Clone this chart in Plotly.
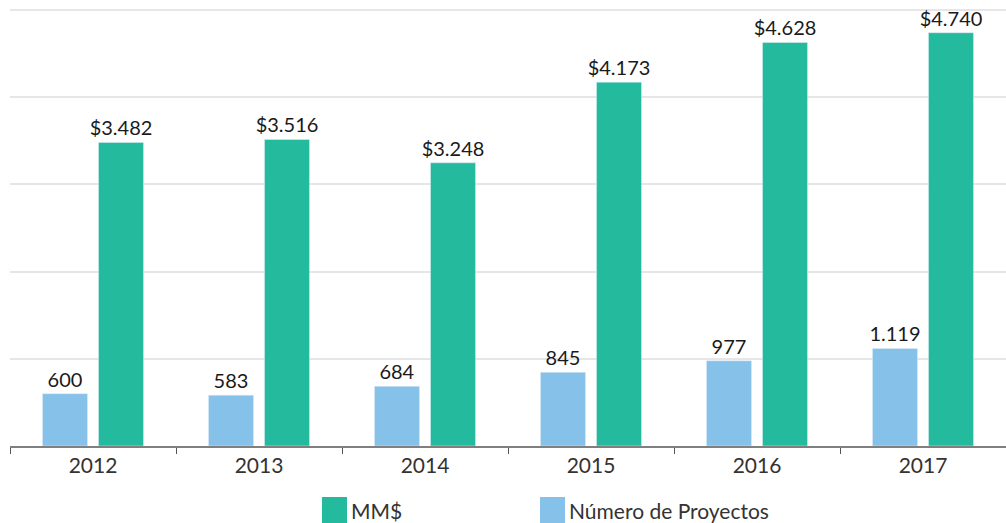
import plotly.graph_objects as go

years = ["2012", "2013", "2014", "2015", "2016", "2017"]
proyectos = [600, 583, 684, 845, 977, 1119]
mm_usd = [3482, 3516, 3248, 4173, 4628, 4740]

name_proy = "Número de Proyectos"
name_mm = "MM$"
color_proy = "#85C1E9"
color_mm = "#23BA9E"

W, H = 1006, 523
ml, mr, mt, mb = 10, 0, 9, 77

fig = go.Figure()
fig.add_trace(go.Bar(
    x=years, y=proyectos, name=name_proy, marker_color=color_proy,
    texttemplate="%{y:,}", textposition="outside", cliponaxis=False,
    constraintext="none",
    textfont=dict(size=20, color="#1a1a1a"),
))
fig.add_trace(go.Bar(
    x=years, y=mm_usd, name=name_mm, marker_color=color_mm,
    texttemplate="$%{y:,}", textposition="outside", cliponaxis=False,
    constraintext="none",
    textfont=dict(size=20, color="#1a1a1a"),
))

# custom legend (large squares like the reference)
def px_to_paper_x(px):
    return (px - ml) / (W - ml - mr)

def px_to_paper_y(py):
    return (H - mb - py) / (H - mt - mb)

legend_items = [(name_mm, color_mm, 322), (name_proy, color_proy, 540)]
shapes = []
annotations = []
for label, col, x0 in legend_items:
    shapes.append(dict(type="rect", xref="paper", yref="paper",
                       x0=px_to_paper_x(x0), x1=px_to_paper_x(x0 + 25),
                       y0=px_to_paper_y(523), y1=px_to_paper_y(497),
                       fillcolor=col, line=dict(width=0)))
    annotations.append(dict(xref="paper", yref="paper", x=px_to_paper_x(x0 + 27),
                            y=px_to_paper_y(510), text=label, showarrow=False,
                            xanchor="left", yanchor="middle",
                            font=dict(size=21, color="#333333")))

fig.update_layout(
    width=W, height=H,
    margin=dict(l=ml, r=mr, t=mt, b=mb, autoexpand=False),
    paper_bgcolor="white", plot_bgcolor="white",
    font=dict(family="Lato, 'Open Sans', sans-serif", size=20, color="#333333"),
    separators=",.",
    barmode="group", bargap=0.325, bargroupgap=0.196,
    showlegend=False,
    shapes=shapes, annotations=annotations,
    xaxis=dict(showline=True, linecolor="#7f7f7f", linewidth=2,
               ticks="outside", tickson="boundaries", ticklen=6, tickcolor="#555555",
               tickwidth=1, tickfont=dict(size=21, color="#333333"),
               showgrid=False),
    yaxis=dict(range=[0, 5012], tickvals=[1000, 2000, 3000, 4000, 5000],
               showticklabels=False,
               showgrid=True, gridcolor="#e6e6e6", gridwidth=2, zeroline=False),
)

fig.write_html("out.html", config={"displayModeBar": False},
               post_script="document.body.style.margin='0';document.body.style.overflow='hidden';")
